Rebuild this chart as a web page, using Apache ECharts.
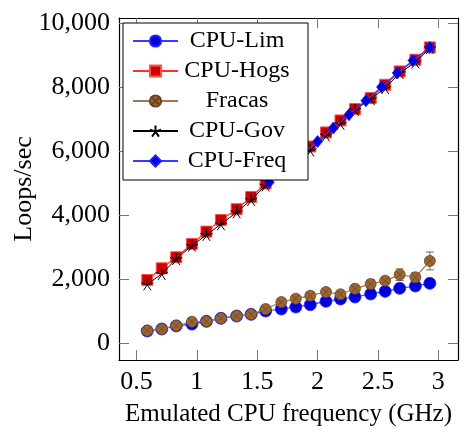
<!DOCTYPE html>
<html lang="en">
<head>
    <meta charset="UTF-8">
    <title>Loops/sec</title>
    <style>
        html, body { margin: 0; padding: 0; background: #fff; }
    </style>
</head>
<body>
<div id="main" style="width:465px; height:434px;"></div>

<script src="https://cdn.jsdelivr.net/npm/echarts@6.0.0/dist/echarts.min.js"></script>
<script>
    // emulated frequencies (GHz)
    var freqs = [0.59, 0.71, 0.83, 0.96, 1.08, 1.20, 1.33, 1.45, 1.57, 1.70,
                 1.82, 1.94, 2.07, 2.19, 2.31, 2.44, 2.56, 2.68, 2.81, 2.93];
    var cpuLim = [385, 447, 545, 600, 687, 781, 853, 906, 1010, 1072,
                  1134, 1206, 1311, 1384, 1447, 1540, 1623, 1717, 1790, 1873];
    var cpuHogs = [1978, 2343, 2687, 3103, 3488, 3853, 4187, 4570, 4990, 5390,
                   5770, 6145, 6583, 6958, 7313, 7656, 8072, 8488, 8853, 9238];
    var fracas = [395, 447, 550, 675, 687, 781, 853, 906, 1072, 1290,
                  1394, 1488, 1603, 1531, 1706, 1853, 1956, 2144, 2063, 2572];
    var fracasErr = [20, 20, 20, 20, 20, 20, 20, 20, 30, 30,
                     30, 30, 40, 40, 50, 140, 60, 180, 140, 280];
    var cpuGov = [1843, 2166, 2634, 3050, 3384, 3718, 4093, 4478, 4930, 5330,
                  5690, 6020, 6489, 6853, 7290, 7625, 7969, 8438, 8770, 9219];
    // real P-state frequencies
    var freqSteps = [1.60, 1.73, 1.86, 2.00, 2.13, 2.26, 2.40, 2.53, 2.66, 2.79, 2.93];
    var cpuFreq = [5030, 5440, 5853, 6300, 6719, 7134, 7572, 8000, 8438, 8831, 9238];

    var xTicks = [0.5, 1, 1.5, 2, 2.5, 3];
    var yTicks = [0, 2000, 4000, 6000, 8000, 10000];

    var FONT = 'Liberation Serif';

    function pairs(xs, ys) {
        return xs.map(function (x, i) { return [x, ys[i]]; });
    }

    var starPath = 'path://M0,0L0,-1M0,0L0.951,-0.309M0,0L0.588,0.809M0,0L-0.588,0.809M0,0L-0.951,-0.309';
    var oplusPath = 'path://M0,-1A1,1,0,1,1,0,1A1,1,0,1,1,0,-1ZM-0.707,-0.707L0.707,0.707M0.707,-0.707L-0.707,0.707';

    var myChart = echarts.init(document.getElementById('main'));

    function fmtThousands(v) {
        return String(v).replace(/\B(?=(\d{3})+(?!\d))/g, ',');
    }

    var frameLine = { show: true, onZero: false, lineStyle: { color: '#000', width: 1.2 } };
    function ticks(vals) {
        return { show: true, inside: true, length: 10, customValues: vals, lineStyle: { color: '#777', width: 1 } };
    }

    var option = {
        animation: false,
        grid: { left: 119, right: 7, top: 18, bottom: 74, outerBoundsMode: 'none', containLabel: false },
        xAxis: [
            {
                type: 'value', min: 0.356, max: 3.163, position: 'bottom',
                name: 'Emulated CPU frequency (GHz)',
                nameLocation: 'middle', nameGap: 42,
                nameTextStyle: { fontFamily: FONT, fontSize: 25, color: '#000' },
                axisLine: frameLine,
                axisTick: ticks(xTicks),
                axisLabel: {
                    fontFamily: FONT, fontSize: 26, color: '#000', margin: 9,
                    customValues: xTicks,
                    formatter: function (v) { return String(v); }
                },
                splitLine: { show: false }
            },
            {
                type: 'value', min: 0.356, max: 3.163, position: 'top',
                axisLine: frameLine,
                axisTick: ticks(xTicks),
                axisLabel: { show: false },
                splitLine: { show: false }
            }
        ],
        yAxis: [
            {
                type: 'value', min: -520, max: 10156, position: 'left',
                name: 'Loops/sec', nameLocation: 'middle', nameGap: 82, nameRotate: 90,
                nameMoveOverlap: false,
                nameTextStyle: { fontFamily: FONT, fontSize: 26, color: '#000' },
                axisLine: frameLine,
                axisTick: ticks(yTicks),
                axisLabel: {
                    fontFamily: FONT, fontSize: 26, color: '#000', margin: 9,
                    customValues: yTicks,
                    formatter: fmtThousands
                },
                splitLine: { show: false }
            },
            {
                type: 'value', min: -520, max: 10156, position: 'right',
                axisLine: frameLine,
                axisTick: ticks(yTicks),
                axisLabel: { show: false },
                splitLine: { show: false }
            }
        ],
        legend: {
            orient: 'vertical',
            left: 123, top: 23,
            padding: [6, 17, 7, 9],
            itemGap: 6,
            itemWidth: 45, itemHeight: 14,
            backgroundColor: '#fff',
            borderColor: '#000', borderWidth: 1, borderRadius: 0,
            formatter: function (name) { return '{t|' + name + '}'; },
            textStyle: {
                fontFamily: FONT, fontSize: 24, color: '#000',
                rich: { t: { fontFamily: FONT, fontSize: 24, color: '#000', width: 108, align: 'center', lineHeight: 20 } }
            },
            data: ['CPU-Lim', 'CPU-Hogs', 'Fracas', 'CPU-Gov', 'CPU-Freq'],
            z: 10
        },
        series: [
            {
                name: 'CPU-Lim', type: 'line', data: pairs(freqs, cpuLim),
                symbol: 'circle', symbolSize: 12,
                lineStyle: { color: '#3a3aff', width: 1.2 },
                itemStyle: { color: '#0000dd', borderColor: '#2020ff', borderWidth: 0.8 },
                z: 2
            },
            {
                name: 'CPU-Hogs', type: 'line', data: pairs(freqs, cpuHogs),
                symbol: 'rect', symbolSize: 11,
                lineStyle: { color: '#ff3030', width: 1.2 },
                itemStyle: { color: '#cc0000', borderColor: '#ff5050', borderWidth: 1 },
                z: 3
            },
            {
                name: 'Fracas', type: 'line', data: pairs(freqs, fracas),
                symbol: oplusPath, symbolSize: 11,
                lineStyle: { color: '#a07850', width: 1.2 },
                itemStyle: { color: '#9a6633', borderColor: '#6b4422', borderWidth: 0.8 },
                z: 4
            },
            {
                name: 'Fracas-err', type: 'custom',
                data: freqs.map(function (x, i) { return [x, fracas[i], fracasErr[i]]; }),
                renderItem: function (params, api) {
                    var x = api.value(0), y = api.value(1), e = api.value(2);
                    var top = api.coord([x, y + e]);
                    var bot = api.coord([x, y - e]);
                    var cap = 4;
                    var st = { stroke: '#8a5f35', lineWidth: 1 };
                    return {
                        type: 'group',
                        children: [
                            { type: 'line', shape: { x1: top[0], y1: top[1], x2: bot[0], y2: bot[1] }, style: st },
                            { type: 'line', shape: { x1: top[0] - cap, y1: top[1], x2: top[0] + cap, y2: top[1] }, style: st },
                            { type: 'line', shape: { x1: bot[0] - cap, y1: bot[1], x2: bot[0] + cap, y2: bot[1] }, style: st }
                        ]
                    };
                },
                z: 3
            },
            {
                name: 'CPU-Gov', type: 'line', data: pairs(freqs, cpuGov),
                symbol: starPath, symbolSize: 12,
                lineStyle: { color: '#000', width: 1 },
                itemStyle: { color: '#000', borderColor: '#000', borderWidth: 1 },
                z: 5
            },
            {
                name: 'CPU-Freq', type: 'line', data: pairs(freqSteps, cpuFreq),
                symbol: 'diamond', symbolSize: [10, 12],
                lineStyle: { color: '#3a3aff', width: 1.2 },
                itemStyle: { color: '#0000dd', borderColor: '#2020ff', borderWidth: 0.8 },
                z: 6
            }
        ]
    };

    myChart.setOption(option);
</script>
</body>
</html>
